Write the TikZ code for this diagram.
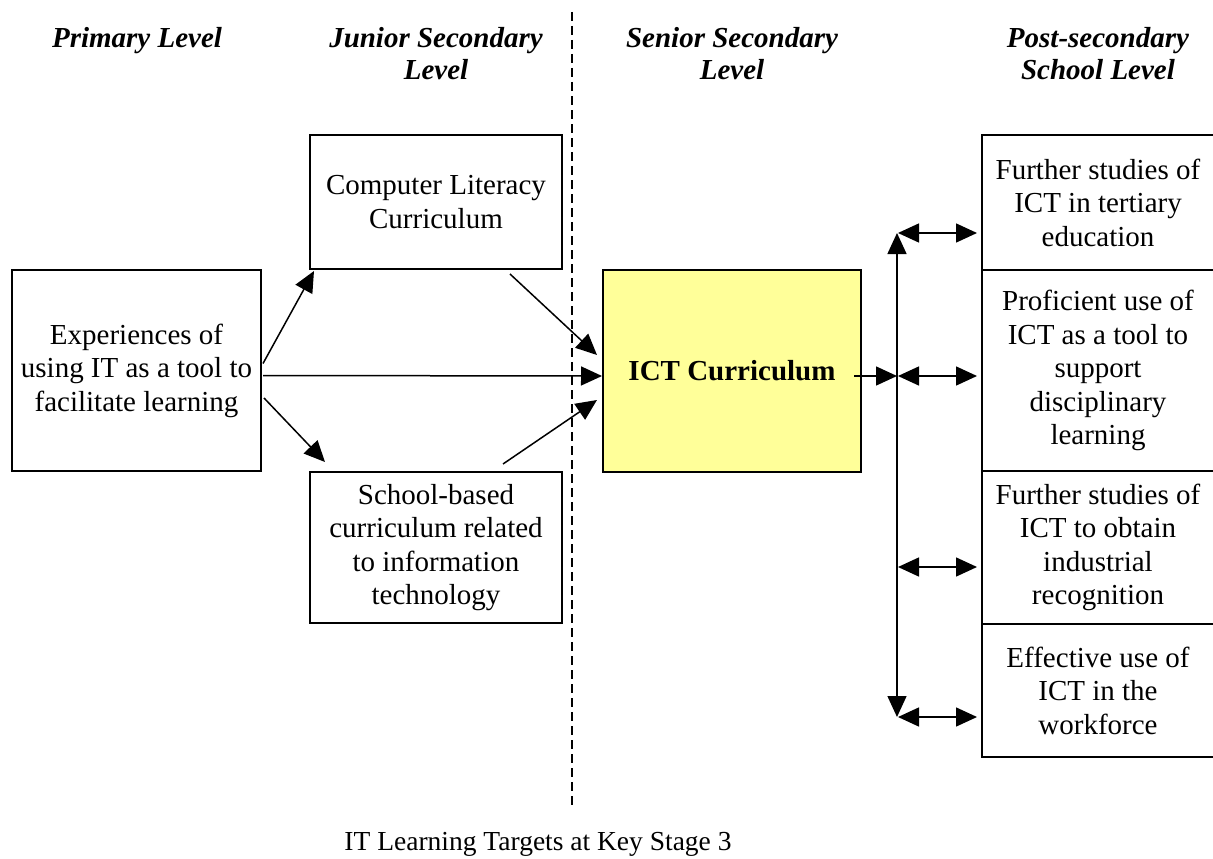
\documentclass[tikz,border=0pt]{standalone}
\usepackage{fontspec}
\setmainfont{Liberation Serif}
\usetikzlibrary{arrows.meta,calc,positioning}
\definecolor{ictyellow}{HTML}{FFFF99}

\begin{document}
\begin{tikzpicture}[x=1pt,y=-1pt,
  >={Triangle[length=21pt,width=19pt]},
  txt/.style={font=\fontsize{29}{33.5}\selectfont,align=center},
  box/.style={txt,draw,line width=2pt,inner sep=0pt},
  head/.style={font=\fontsize{29}{32}\selectfont\bfseries\itshape,align=center},
  link/.style={->,line width=1.5pt}]
  \useasboundingbox (0,0) rectangle (1213,859);
  %level headings
  \node[head] (prim) at (137,41) {Primary Level};
  \node[head] (jun) at (436,54) {Junior Secondary\\Level};
  \node[head] (sen) at (732,54) {Senior Secondary\\Level};
  \node[head] (post) at (1098,54) {Post-secondary\\School Level};
  %divider between junior and senior levels
  \draw [dashed,line width=1.4pt,dash pattern=on 9pt off 5pt] (572,12) -- (572,805);
  %curriculum boxes
  \node[box,minimum width=249pt,minimum height=201pt] (exp) at (136.5,370.5)
    {Experiences of\\using IT as a tool to\\facilitate learning};
  \node[box,minimum width=252pt,minimum height=134pt] (cl) at (436,202)
    {Computer Literacy\\Curriculum};
  \node[box,minimum width=252pt,minimum height=151pt] (sb) at (436,547.5)
    {School-based\\curriculum related\\to information\\technology};
  \node[box,fill=ictyellow,minimum width=258pt,minimum height=202pt] (ict) at (732,371)
    {\textbf{ICT Curriculum}};
  %post-secondary pathways
  \node[box,minimum width=232pt,minimum height=135pt] (f1) at (1098,202.5)
    {Further studies of\\ICT in tertiary\\education};
  \node[box,minimum width=232pt,minimum height=201pt] (f2) at (1098,370.5)
    {Proficient use of\\ICT as a tool to\\support\\disciplinary\\learning};
  \node[box,minimum width=232pt,minimum height=153pt] (f3) at (1098,547.5)
    {Further studies of\\ICT to obtain\\industrial\\recognition};
  \node[box,minimum width=232pt,minimum height=133pt] (f4) at (1098,690.5)
    {Effective use of\\ICT in the\\workforce};
  %arrows into the ICT curriculum
  \draw [link] ($(exp.east)+(1,-7)$) -- ($(cl.south west)+(5,1)$);
  \draw [link] ($(exp.east)+(1,5)$) -- ($(ict.west)+(0,5)$);
  \draw [link] ($(exp.east)+(2,27.5)$) -- ($(sb.north west)+(16,-9)$);
  \draw [link] ($(cl.south)+(74,4)$) -- ($(ict.west)+(-5,-16)$);
  \draw [link] ($(sb.north)+(67,-7)$) -- ($(ict.west)+(-5,29)$);
  %branching bar
  \coordinate (j0) at (897,376);
  \coordinate (j1) at (897,233);
  \coordinate (j2) at (897,376);
  \coordinate (j3) at (897,567);
  \coordinate (j4) at (897,717);
  \draw [link] ($(ict.east)+(-8,5)$) -- (j0);
  \draw [<->,line width=1.5pt] (j1) -- (j4);
  \foreach \j/\f in {j1/f1,j2/f2,j3/f3,j4/f4}
    \draw [<->,line width=1.5pt,shorten <=1pt,shorten >=4pt] (\j) -- (\j -| \f.west);
  %caption
  \node[txt,font=\fontsize{27.5}{32}\selectfont,anchor=base] (cap) at (538,850)
    {IT Learning Targets at Key Stage 3};
\end{tikzpicture}
\end{document}
